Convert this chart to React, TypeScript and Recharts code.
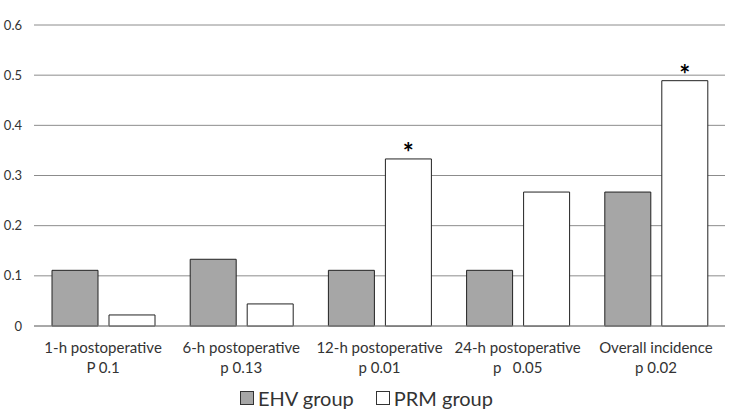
import React from 'react';
import { BarChart, Bar, XAxis, YAxis, CartesianGrid, Legend, LabelList } from 'recharts';

const categories = ['1-h postoperative', '6-h postoperative', '12-h postoperative', '24-h postoperative', 'Overall incidence'];
const pLabels = ['P 0.1', 'p 0.13', 'p 0.01', 'p   0.05', 'p 0.02'];
const ehvValues = [0.111, 0.133, 0.111, 0.111, 0.267];
const prmValues = [0.022, 0.044, 0.333, 0.267, 0.489];
const significant = [false, false, true, false, true];
const yTicks = [0, 0.1, 0.2, 0.3, 0.4, 0.5, 0.6];

const data = categories.map((name, i) => ({
  name,
  p: pLabels[i],
  ehv: ehvValues[i],
  prm: prmValues[i],
  star: significant[i] ? '*' : '',
}));

const FONT = 'Lato, "Liberation Sans", sans-serif';
const TEXT = '#333333';

const CategoryTick = (props: any) => {
  const { x, y, payload, index } = props;
  return (
    <g>
      <text x={x} y={y + 19} textAnchor="middle" fontSize={15} fill={TEXT} fontFamily={FONT}>
        {payload.value}
      </text>
      <text x={x} y={y + 39} textAnchor="middle" fontSize={15} fill={TEXT} fontFamily={FONT} style={{ whiteSpace: 'pre' }}>
        {pLabels[index]}
      </text>
    </g>
  );
};

const renderLegend = () => (
  <div style={{ display: 'flex', justifyContent: 'center', gap: 22, fontFamily: FONT, fontSize: 20, color: TEXT, marginLeft: 8, marginTop: 10 }}>
    <div style={{ display: 'flex', alignItems: 'center' }}>
      <span style={{ width: 12, height: 12, background: '#a6a6a6', border: '1px solid #333', marginRight: 4 }} />
      EHV group
    </div>
    <div style={{ display: 'flex', alignItems: 'center' }}>
      <span style={{ width: 12, height: 12, background: '#fff', border: '1px solid #333', marginRight: 4 }} />
      PRM group
    </div>
  </div>
);

export default function App() {
  return (
    <div style={{ position: 'absolute', left: 0, top: 0, width: 737, height: 417, background: '#fff' }}>
      <BarChart
        width={737}
        height={417}
        data={data}
        margin={{ top: 25, right: 12, left: 0, bottom: 0 }}
        barSize={46}
        barGap={11}
      >
        <CartesianGrid horizontal vertical={false} stroke="#8c8c8c" />
        <XAxis
          dataKey="name"
          height={50}
          tickLine={false}
          axisLine={{ stroke: '#8c8c8c' }}
          tick={<CategoryTick />}
          interval={0}
        />
        <YAxis
          width={34}
          domain={[0, 0.6]}
          ticks={yTicks}
          axisLine={false}
          tickLine={false}
          tickMargin={6}
          tick={{ fontSize: 13, fill: TEXT, fontFamily: FONT }}
          tickFormatter={(v: number) => (v === 0 ? '0' : v.toFixed(1))}
        />
        <Legend verticalAlign="bottom" height={41} content={renderLegend} />
        <Bar dataKey="ehv" name="EHV group" fill="#a6a6a6" stroke="#222" strokeWidth={1} isAnimationActive={false} />
        <Bar dataKey="prm" name="PRM group" fill="#ffffff" stroke="#222" strokeWidth={1} isAnimationActive={false}>
          <LabelList dataKey="star" position="top" offset={-3} fill="#000" fontSize={26} fontWeight="bold" fontFamily={FONT} />
        </Bar>
      </BarChart>
    </div>
  );
}
